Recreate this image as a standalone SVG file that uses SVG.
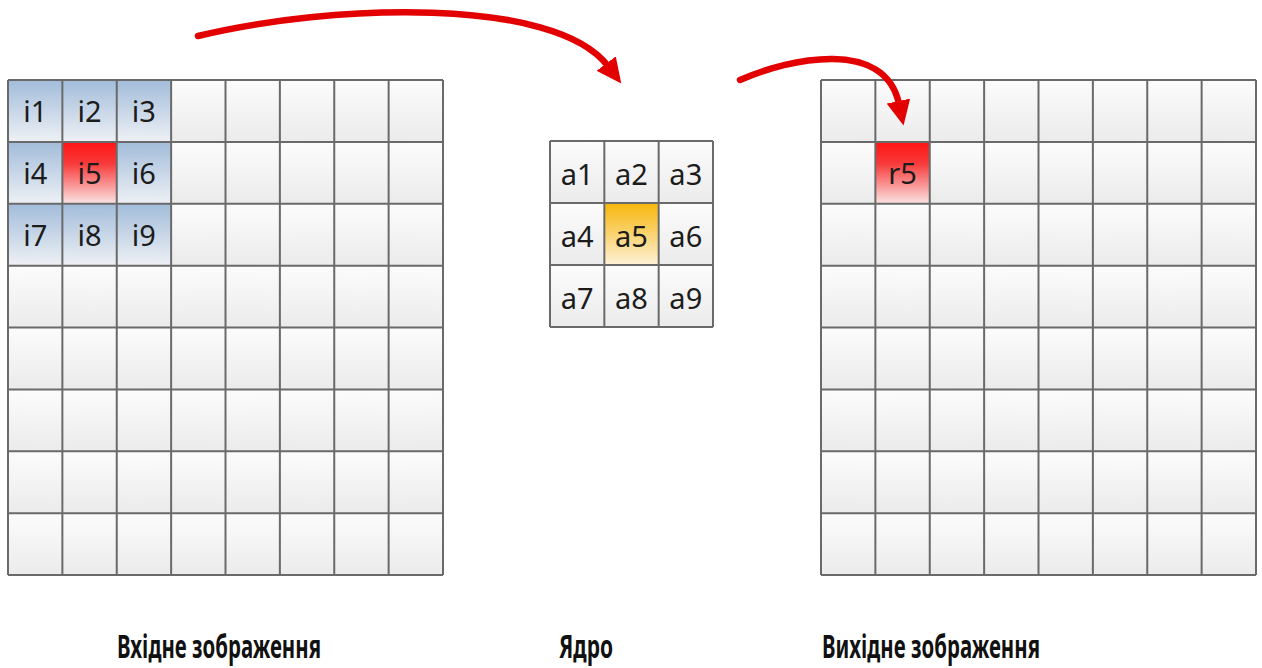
<svg xmlns="http://www.w3.org/2000/svg" width="1262" height="668" viewBox="0 0 1262 668">
<defs>
<linearGradient id="gCell" x1="0" y1="0" x2="0" y2="1"><stop offset="0" stop-color="#fcfcfc"/><stop offset="1" stop-color="#ebebeb"/></linearGradient>
<linearGradient id="gBlue" x1="0" y1="0" x2="0" y2="1"><stop offset="0" stop-color="#a2bcda"/><stop offset="1" stop-color="#eef1f5"/></linearGradient>
<linearGradient id="gRed" x1="0" y1="0" x2="0" y2="1"><stop offset="0" stop-color="#ff1414"/><stop offset="0.35" stop-color="#f83a3a"/><stop offset="1" stop-color="#fbe4e4"/></linearGradient>
<linearGradient id="gOrange" x1="0" y1="0" x2="0" y2="1"><stop offset="0" stop-color="#f8b60a"/><stop offset="1" stop-color="#fdf1d8"/></linearGradient>
<pattern id="pL" patternUnits="userSpaceOnUse" x="8" y="80" width="54.375" height="61.875"><rect width="54.375" height="61.875" fill="url(#gCell)"/></pattern>
<pattern id="pB" patternUnits="userSpaceOnUse" x="8" y="80" width="54.375" height="61.875"><rect width="54.375" height="61.875" fill="url(#gBlue)"/></pattern>
<pattern id="pR" patternUnits="userSpaceOnUse" x="821" y="80" width="54.375" height="61.875"><rect width="54.375" height="61.875" fill="url(#gCell)"/></pattern>
<pattern id="pK" patternUnits="userSpaceOnUse" x="550" y="141" width="54.333" height="62"><rect width="54.333" height="62" fill="url(#gCell)"/></pattern>
<marker id="ah" markerUnits="userSpaceOnUse" markerWidth="26" markerHeight="24" refX="3" refY="12" orient="auto"><path d="M0,0 L25,12 L0,24 z" fill="#e30000"/></marker>
<style>
.grid{fill:none;stroke:#6a6a6a;stroke-width:2}
.ct{font-family:"Noto Sans","Open Sans",sans-serif;font-size:29px;fill:#1c1c1c;text-anchor:middle}
.lbl{font-family:"Noto Sans","Open Sans",sans-serif;font-weight:bold;font-size:32px;fill:#111;text-anchor:middle}
.arr{fill:none;stroke:#e30000;stroke-width:6.5;stroke-linecap:round}
</style>
</defs>
<g id="input-image">
<rect x="8" y="80" width="435" height="495" fill="url(#pL)"/>
<rect x="8" y="80" width="163.125" height="185.625" fill="url(#pB)"/>
<rect x="62.375" y="141.875" width="54.375" height="61.875" fill="url(#gRed)"/>
<path class="grid" d="M8,80V575M62.375,80V575M116.75,80V575M171.125,80V575M225.5,80V575M279.875,80V575M334.25,80V575M388.625,80V575M443,80V575M8,80H443M8,141.875H443M8,203.75H443M8,265.625H443M8,327.5H443M8,389.375H443M8,451.25H443M8,513.125H443M8,575H443"/>
<text class="ct" x="35.2" y="122">i1</text>
<text class="ct" x="89.6" y="122">i2</text>
<text class="ct" x="143.9" y="122">i3</text>
<text class="ct" x="35.2" y="184">i4</text>
<text class="ct" x="89.6" y="184">i5</text>
<text class="ct" x="143.9" y="184">i6</text>
<text class="ct" x="35.2" y="246">i7</text>
<text class="ct" x="89.6" y="246">i8</text>
<text class="ct" x="143.9" y="246">i9</text>
</g>
<g id="kernel">
<rect x="550" y="141" width="163" height="186" fill="url(#pK)"/>
<rect x="604.333" y="203" width="54.333" height="62" fill="url(#gOrange)"/>
<path class="grid" d="M550,141V327M604.333,141V327M658.667,141V327M713,141V327M550,141H713M550,203H713M550,265H713M550,327H713"/>
<text class="ct" x="577.2" y="185">a1</text>
<text class="ct" x="631.5" y="185">a2</text>
<text class="ct" x="685.8" y="185">a3</text>
<text class="ct" x="577.2" y="247">a4</text>
<text class="ct" x="631.5" y="247">a5</text>
<text class="ct" x="685.8" y="247">a6</text>
<text class="ct" x="577.2" y="309">a7</text>
<text class="ct" x="631.5" y="309">a8</text>
<text class="ct" x="685.8" y="309">a9</text>
</g>
<g id="output-image">
<rect x="821" y="80" width="435" height="495" fill="url(#pR)"/>
<rect x="875.375" y="141.875" width="54.375" height="61.875" fill="url(#gRed)"/>
<path class="grid" d="M821,80V575M875.375,80V575M929.75,80V575M984.125,80V575M1038.5,80V575M1092.875,80V575M1147.25,80V575M1201.625,80V575M1256,80V575M821,80H1256M821,141.875H1256M821,203.75H1256M821,265.625H1256M821,327.5H1256M821,389.375H1256M821,451.25H1256M821,513.125H1256M821,575H1256"/>
<text class="ct" x="902.6" y="184">r5</text>
</g>
<g id="connectors">
<path class="arr" d="M198,36 C330,4 555,-4 608,66" marker-end="url(#ah)"/>
<path class="arr" d="M740,80 C790,58 885,38 899,104" marker-end="url(#ah)"/>
</g>
<g id="label-input"><text class="lbl" x="219" y="658" textLength="204" lengthAdjust="spacingAndGlyphs">Вхідне зображення</text></g>
<g id="label-kernel"><text class="lbl" x="586" y="658" textLength="54" lengthAdjust="spacingAndGlyphs">Ядро</text></g>
<g id="label-output"><text class="lbl" x="931" y="658" textLength="218" lengthAdjust="spacingAndGlyphs">Вихідне зображення</text></g>
</svg>
